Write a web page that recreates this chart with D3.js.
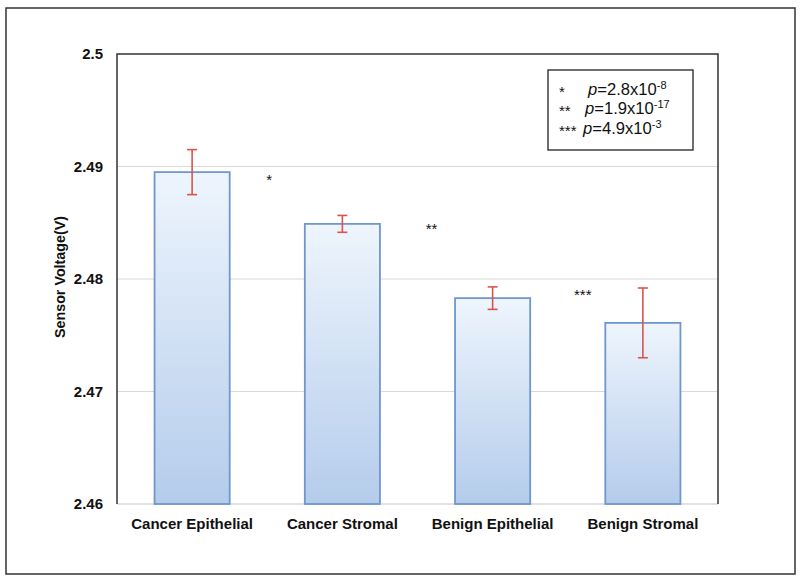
<!DOCTYPE html>
<html><head><meta charset="utf-8">
<script src="https://cdn.jsdelivr.net/npm/d3@7"></script>
<style>body{margin:0;background:#fff}svg{display:block;font-family:"Liberation Sans",Arial,sans-serif}</style>
</head><body>
<svg id="c" width="800" height="581"></svg>
<script>
const categories = ["Cancer Epithelial","Cancer Stromal","Benign Epithelial","Benign Stromal"];
const means = [2.4895, 2.4849, 2.4783, 2.4761];
const errors = [0.0020, 0.00075, 0.0010, 0.0031];
const yTicks = [2.46, 2.47, 2.48, 2.49, 2.5];
const stars = ["*","**","***"];
const starValues = [2.4890, 2.4846, 2.4788];
const legendStars = ["*","**","***"];
const legendMant = ["2.8","1.9","4.9"];
const legendExp = ["-8","-17","-3"];

const svg = d3.select("#c");
const m = {l:117, t:54, r:718, b:504};
const x = d3.scaleBand().domain(categories).range([m.l,m.r]).paddingInner(0.5).paddingOuter(0.25);
const y = d3.scaleLinear().domain([2.46,2.5]).range([m.b,m.t]);

// outer frame
svg.append("rect").attr("x",6).attr("y",8).attr("width",789).attr("height",566)
  .attr("fill","none").attr("stroke","#333").attr("stroke-width",1.5);

const defs = svg.append("defs");
const g = defs.append("linearGradient").attr("id","bg").attr("x1",0).attr("y1",0).attr("x2",0).attr("y2",1);
g.append("stop").attr("offset","0%").attr("stop-color","#eef5fd");
g.append("stop").attr("offset","100%").attr("stop-color","#b4cceb");

// gridlines
svg.append("g").selectAll("line").data(yTicks.filter(d=>d>2.46 && d<2.5)).join("line")
  .attr("x1",m.l).attr("x2",m.r).attr("y1",d=>y(d)).attr("y2",d=>y(d))
  .attr("stroke","#d9d9d9").attr("stroke-width",1.2);
// bottom axis line
svg.append("line").attr("x1",m.l).attr("x2",m.r).attr("y1",m.b).attr("y2",m.b)
  .attr("stroke","#d9d9d9").attr("stroke-width",1.5);

// bars
svg.append("g").selectAll("rect").data(categories).join("rect")
  .attr("x",d=>x(d)).attr("width",x.bandwidth())
  .attr("y",(d,i)=>y(means[i])).attr("height",(d,i)=>m.b-y(means[i]))
  .attr("fill","url(#bg)").attr("stroke","#6f97cc").attr("stroke-width",1.8);

// plot border (left, top, right)
svg.append("path").attr("d",`M${m.l},${m.b}V${m.t}H${m.r}V${m.b}`)
  .attr("fill","none").attr("stroke","#333").attr("stroke-width",1.5);

// error bars
const eb = svg.append("g").attr("stroke","#d9544f").attr("stroke-width",1.6);
categories.forEach((c,i)=>{
  const cx = x(c)+x.bandwidth()/2;
  const y1 = y(means[i]+errors[i]), y2 = y(means[i]-errors[i]);
  eb.append("line").attr("x1",cx).attr("x2",cx).attr("y1",y1).attr("y2",y2);
  eb.append("line").attr("x1",cx-5).attr("x2",cx+5).attr("y1",y1).attr("y2",y1);
  eb.append("line").attr("x1",cx-5).attr("x2",cx+5).attr("y1",y2).attr("y2",y2);
});

// y axis
const ya = svg.append("g").attr("transform",`translate(${m.l},0)`)
  .call(d3.axisLeft(y).tickValues(yTicks).tickSize(0).tickPadding(14).tickFormat(d3.format("")));
ya.select(".domain").remove();
ya.selectAll("text").attr("font-size",15).attr("font-weight","bold").attr("fill","#111")
  .attr("font-family","Liberation Sans, Arial, sans-serif");

// x axis labels
const xa = svg.append("g").attr("transform",`translate(0,${m.b})`)
  .call(d3.axisBottom(x).tickSize(0).tickPadding(14));
xa.select(".domain").remove();
xa.selectAll("text").attr("font-size",15).attr("font-weight","bold").attr("fill","#111")
  .attr("font-family","Liberation Sans, Arial, sans-serif");

// y title
svg.append("text").attr("transform",`translate(65,${(m.t+m.b)/2 - 2}) rotate(-90)`)
  .attr("text-anchor","middle").attr("font-size",14.3).attr("font-weight","bold").attr("fill","#111")
  .text("Sensor Voltage(V)");

// significance stars
const starX = [0,1,2].map(i=>(x(categories[i])+x(categories[i+1])+x.bandwidth())/2 + [2,14,15][i]);
svg.append("g").selectAll("text").data(stars).join("text")
  .attr("x",(d,i)=>starX[i]).attr("y",(d,i)=>y(starValues[i])+7)
  .attr("text-anchor","middle").attr("font-size",15).attr("fill","#111").text(d=>d);

// legend
svg.append("rect").attr("x",548).attr("y",70).attr("width",145).attr("height",80)
  .attr("fill","#fff").attr("stroke","#222").attr("stroke-width",1.3);
const lg = svg.append("g").attr("font-size",16.6).attr("fill","#111");
const baselines = [94.5, 114, 134];
legendStars.forEach((s,i)=>{
  const ty = baselines[i];
  lg.append("text").attr("x",559).attr("y",ty+2).attr("font-size",15).text(s);
  const t = lg.append("text").attr("x",[588,585,583][i]).attr("y",ty);
  t.append("tspan").attr("font-style","italic").text("p");
  t.append("tspan").text("="+legendMant[i]+"x10");
  t.append("tspan").attr("font-size",11).attr("dy",-6).text(legendExp[i]);
});
</script>
</body></html>
